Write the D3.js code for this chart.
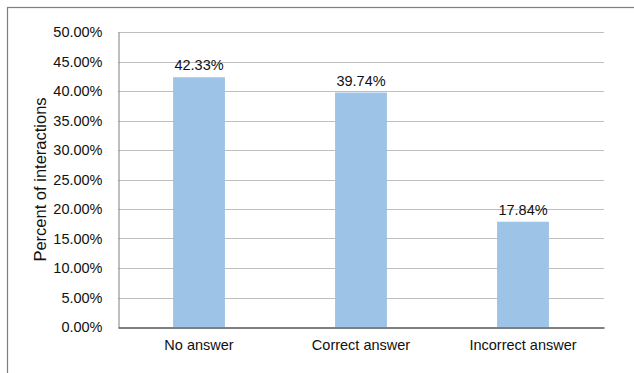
<!DOCTYPE html>
<html>
<head>
<meta charset="utf-8">
<script src="https://cdn.jsdelivr.net/npm/d3@7"></script>
<style>
  html, body { margin: 0; padding: 0; background: #fff; }
  svg { display: block; font-family: "Liberation Sans", Arial, sans-serif; }
</style>
</head>
<body>
<svg id="chart" width="634" height="373"></svg>
<script>
// Share of interactions by answer outcome
const categories = ["No answer", "Correct answer", "Incorrect answer"];
const percents = [42.33, 39.74, 17.84];
const yTicks = [0, 5, 10, 15, 20, 25, 30, 35, 40, 45, 50];
const yTitle = "Percent of interactions";

const svg = d3.select("#chart");
const margin = { left: 118, right: 30, top: 32, bottom: 46 };
const W = 634, H = 373;
const FONT = "Liberation Sans, Arial, sans-serif";

// outer frame
svg.append("rect")
  .attr("x", 7.5).attr("y", 7.5)
  .attr("width", W + 10).attr("height", H + 10)
  .attr("fill", "none").attr("stroke", "#7f7f7f").attr("stroke-width", 1.2);

const x = d3.scaleBand()
  .domain(categories)
  .range([margin.left, W - margin.right])
  .paddingInner(0.68).paddingOuter(0.34);

const y = d3.scaleLinear()
  .domain([0, 50])
  .range([H - margin.bottom, margin.top]);

// gridlines
svg.append("g")
  .selectAll("line")
  .data(yTicks.filter(d => d > 0))
  .join("line")
  .attr("x1", margin.left).attr("x2", W - margin.right)
  .attr("y1", d => Math.round(y(d)) + 0.5).attr("y2", d => Math.round(y(d)) + 0.5)
  .attr("stroke", "#bfbfbf").attr("stroke-width", 1);

// bars
svg.append("g")
  .selectAll("rect")
  .data(percents)
  .join("rect")
  .attr("x", (d, i) => x(categories[i]))
  .attr("width", x.bandwidth())
  .attr("y", d => y(d))
  .attr("height", d => y(0) - y(d))
  .attr("fill", "#9dc3e6");

// value labels
svg.append("g")
  .selectAll("text")
  .data(percents)
  .join("text")
  .attr("x", (d, i) => x(categories[i]) + x.bandwidth() / 2)
  .attr("y", d => y(d) - 7)
  .attr("text-anchor", "middle")
  .attr("font-family", FONT)
  .attr("font-size", 14.5)
  .attr("fill", "#111")
  .text(d => d.toFixed(2) + "%");

// y axis
const yAxis = d3.axisLeft(y)
  .tickValues(yTicks)
  .tickSize(0)
  .tickPadding(16)
  .tickFormat(d => d.toFixed(2) + "%");
const gy = svg.append("g")
  .attr("transform", `translate(${margin.left + 0.5},0)`)
  .call(yAxis);
gy.select(".domain").attr("stroke", "#7f7f7f");
gy.selectAll("text").attr("font-size", 14.5).attr("fill", "#111")
  .attr("font-family", FONT);

// x axis
const xAxis = d3.axisBottom(x).tickSize(0).tickPadding(12);
const gx = svg.append("g")
  .attr("transform", `translate(0,${Math.round(y(0)) + 0.5})`)
  .call(xAxis);
gx.select(".domain").attr("stroke", "#000");
gx.selectAll("text").attr("font-size", 14.5).attr("fill", "#111")
  .attr("font-family", FONT);

// y axis title
svg.append("text")
  .attr("transform", `translate(46,${(y(0) + y(50)) / 2}) rotate(-90)`)
  .attr("text-anchor", "middle")
  .attr("font-family", FONT)
  .attr("font-size", 16.5)
  .attr("fill", "#111")
  .text(yTitle);
</script>
</body>
</html>
